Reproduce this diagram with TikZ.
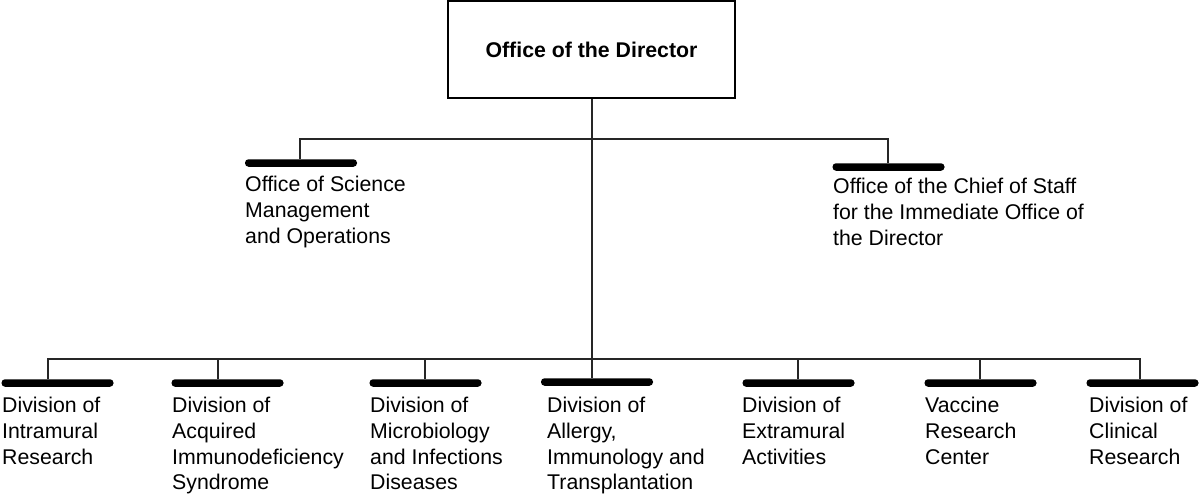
\documentclass[tikz,border=0pt]{standalone}
\usepackage{fontspec}
\setmainfont{Liberation Sans}
\begin{document}
\begin{tikzpicture}[x=1pt,y=-1pt,
  conn/.style={draw=black!85,line width=2pt},
  bar/.style={rectangle,rounded corners=3.5pt,fill=black,minimum width=112pt,minimum height=7.5pt,inner sep=0pt},
  lbl/.style={anchor=north west,inner sep=0pt,align=left,font=\fontsize{21.3}{25.7}\selectfont,execute at begin node={\strut}},
  dirbox/.style={draw=black,line width=2pt,minimum width=287pt,minimum height=97pt,inner sep=0pt,font=\fontsize{21.3}{25.7}\selectfont\bfseries}]
\useasboundingbox (0,0) rectangle (1200,496);
\node[dirbox] (dir) at (591.5,49.5) {Office of the Director};
% upper bars
\node[bar] (bL) at (301,163) {};
\node[bar] (bR) at (888.5,167) {};
% lower bars
\node[bar] (b1) at (57.5,383) {};
\node[bar] (b2) at (227.5,383) {};
\node[bar] (b3) at (425.5,383) {};
\node[bar] (b4) at (597,382) {};
\node[bar] (b5) at (798.5,383) {};
\node[bar] (b6) at (980.5,383) {};
\node[bar] (b7) at (1142.5,383) {};
% labels
\node[lbl] (tL) at (245,176) {Office of Science\\Management\\and Operations};
\node[lbl] (tR) at (833,178) {Office of the Chief of Staff\\for the Immediate Office of\\the Director};
\node[lbl] (t1) at (2,397) {Division of\\Intramural\\Research};
\node[lbl] (t2) at (172,397) {Division of\\Acquired\\Immunodeficiency\\Syndrome};
\node[lbl] (t3) at (370,397) {Division of\\Microbiology\\and Infections\\Diseases};
\node[lbl] (t4) at (547,397) {Division of\\Allergy,\\Immunology and\\Transplantation};
\node[lbl] (t5) at (742,397) {Division of\\Extramural\\Activities};
\node[lbl] (t6) at (925,397) {Vaccine\\Research\\Center};
\node[lbl] (t7) at (1089,397) {Division of\\Clinical\\Research};
% connector coordinates
\coordinate (dL) at (300,139);
\coordinate (dR) at (888,139);
\coordinate (d1) at (48,359);
\coordinate (d2) at (218,359);
\coordinate (d3) at (425,359);
\coordinate (d5) at (798,359);
\coordinate (d6) at (980,359);
\coordinate (d7) at (1140,359);
% connectors
\draw[conn] (dir.south) -- (dir.south |- b4.north);
\draw[conn] (bL.north -| dL) -- (dL) -- (dR) -- (bR.north -| dR);
\draw[conn] (b1.north -| d1) -- (d1) -- (d7) -- (b7.north -| d7);
\draw[conn] (d2) -- (b2.north -| d2);
\draw[conn] (d3) -- (b3.north -| d3);
\draw[conn] (d5) -- (b5.north -| d5);
\draw[conn] (d6) -- (b6.north -| d6);
\end{tikzpicture}
\end{document}
